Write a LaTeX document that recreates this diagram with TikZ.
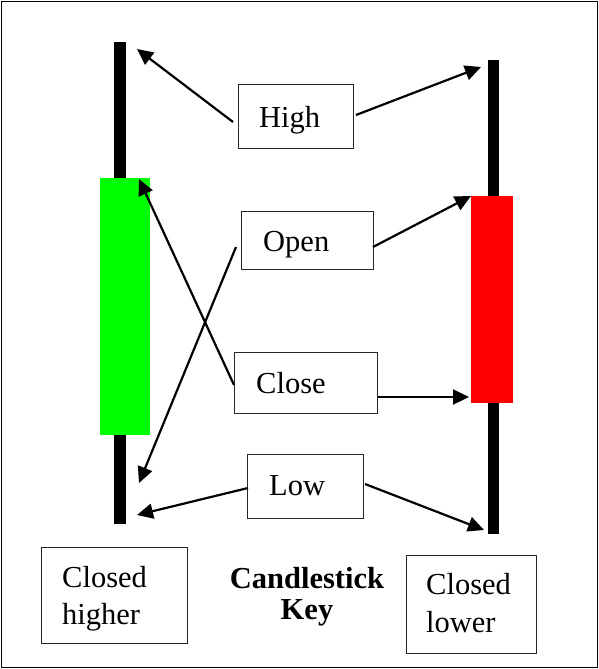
\documentclass[tikz,border=0pt]{standalone}
\usepackage{fontspec}
\setmainfont{Liberation Serif}
\newfontfamily\tnr{Liberation Serif}
\usetikzlibrary{arrows.meta}
\begin{document}
\begin{tikzpicture}[x=1pt,y=-1pt,
  lbl/.style={draw=black!85,line width=1pt,fill=none,inner sep=0pt},
  txt/.style={inner sep=0pt,anchor=base west,font=\tnr\fontsize{30.5}{36}\selectfont},
  wick/.style={fill=black,inner sep=0pt,minimum width=12pt},
  body/.style={inner sep=0pt},
  ptr/.style={line width=2.2pt,-{Triangle[length=16pt,width=15pt]}}]
\useasboundingbox (0,0) rectangle (599,669);
\draw[line width=1.2pt] (1.5,1.5) rectangle (597.5,667.5);

% rising candle (green)
\node[wick,minimum height=482pt] (lwick) at (119.5,283) {};
\node[body,fill={rgb,255:red,0;green,255;blue,0},minimum width=50pt,minimum height=257pt] (lbody) at (125,306.5) {};
% falling candle (red)
\node[wick,minimum height=474pt,minimum width=11pt] (rwick) at (493.5,297) {};
\node[body,fill={rgb,255:red,255;green,0;blue,0},minimum width=42pt,minimum height=207pt] (rbody) at (492,299.5) {};

% label boxes
\node[lbl,minimum width=115pt,minimum height=64pt] (high) at (295.5,116) {};
\node[txt] (hight) at (259,127) {High};
\node[lbl,minimum width=132pt,minimum height=58pt] (open) at (307,240) {};
\node[txt] (opent) at (263,251) {Open};
\node[lbl,minimum width=143pt,minimum height=61pt] (close) at (305.5,382.5) {};
\node[txt] (closet) at (256,393) {Close};
\node[lbl,minimum width=116pt,minimum height=64pt] (low) at (305,486) {};
\node[txt] (lowt) at (269,495) {Low};

\node[lbl,minimum width=146pt,minimum height=96pt] (up) at (114,595) {};
\node[txt] (upa) at (62,587) {Closed};
\node[txt] (upb) at (62,624) {higher};
\node[lbl,minimum width=130pt,minimum height=98pt] (down) at (471,604) {};
\node[txt] (downa) at (426,594) {Closed};
\node[txt] (downb) at (426,632) {lower};

\node[inner sep=0pt,anchor=base,font=\tnr\fontsize{30.5}{36}\selectfont\bfseries] (keya) at (307,588) {Candlestick};
\node[inner sep=0pt,anchor=base,font=\tnr\fontsize{30.5}{36}\selectfont\bfseries] (keyb) at (307,619) {Key};

% connector ends
\coordinate (hs1) at (233,122);  \coordinate (he1) at (137,49);
\coordinate (hs2) at (356,115);  \coordinate (he2) at (481,67);
\coordinate (os1) at (236,247);  \coordinate (oe1) at (139,483);
\coordinate (os2) at (373,247);  \coordinate (oe2) at (471,196);
\coordinate (cs1) at (234,385);  \coordinate (ce1) at (139,179);
\coordinate (cs2) at (378,397);  \coordinate (ce2) at (469,397);
\coordinate (ls1) at (248,488);  \coordinate (le1) at (137,515);
\coordinate (ls2) at (365,484);  \coordinate (le2) at (484,530);

\draw[ptr] (hs1) -- (he1);
\draw[ptr] (hs2) -- (he2);
\draw[ptr] (os1) -- (oe1);
\draw[ptr] (os2) -- (oe2);
\draw[ptr] (cs1) -- (ce1);
\draw[ptr] (cs2) -- (ce2);
\draw[ptr] (ls1) -- (le1);
\draw[ptr] (ls2) -- (le2);
\end{tikzpicture}
\end{document}
